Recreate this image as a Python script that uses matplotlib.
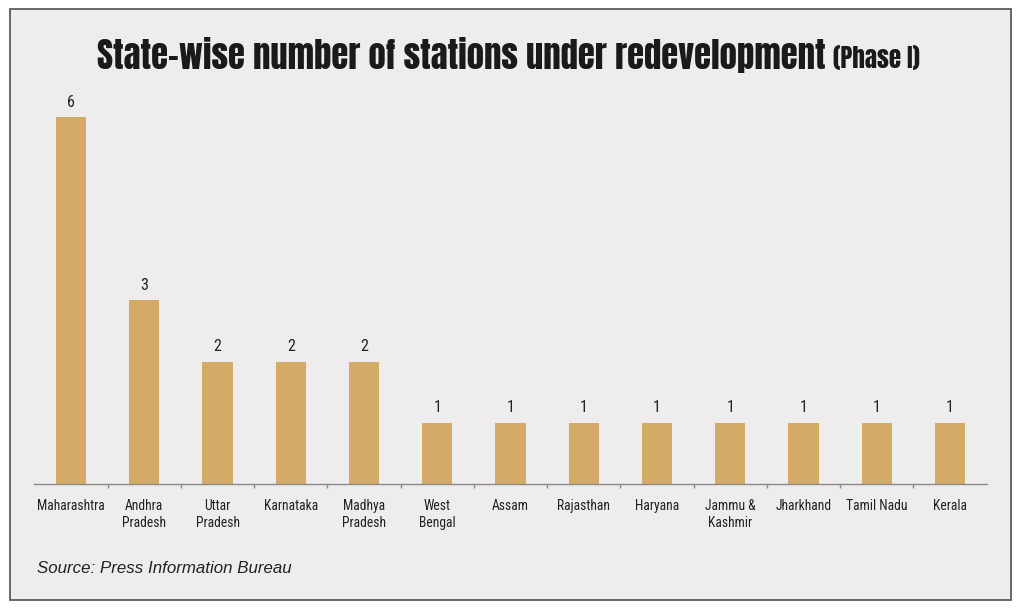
import matplotlib
matplotlib.use("Agg")
import matplotlib.pyplot as plt
from matplotlib.patches import Rectangle

states = ["Maharashtra", "Andhra\nPradesh", "Uttar\nPradesh", "Karnataka", "Madhya\nPradesh",
          "West\nBengal", "Assam", "Rajasthan", "Haryana", "Jammu &\nKashmir",
          "Jharkhand", "Tamil Nadu", "Kerala"]
stations = [6, 3, 2, 2, 2, 1, 1, 1, 1, 1, 1, 1, 1]

W, H = 1024, 608
fig = plt.figure(figsize=(W / 100, H / 100), dpi=100)
fig.patch.set_facecolor("white")

bg = "#eeeced"
frame = Rectangle((10 / W, 1 - 600 / H), 1001 / W, 591 / H, transform=fig.transFigure,
                  facecolor=bg, edgecolor="#5a5a5a", linewidth=1.3, zorder=-5)
fig.patches.append(frame)

title_font = ["Anton", "Oswald", "DejaVu Sans"]
narrow = ["Roboto Condensed", "IBM Plex Sans Condensed", "DejaVu Sans"]

ax = fig.add_axes([34.4 / W, 1 - 484 / H, (986.6 - 34.4) / W, (484 - 86.3) / H])
ax.set_zorder(2)
ax.patch.set_visible(False)
x = list(range(len(states)))
ax.bar(x, stations, width=0.41, color="#d4ab66", zorder=2)
ax.set_xlim(-0.5, len(states) - 0.5)
ax.set_ylim(0, 6.5)
for s in ["top", "right", "left"]:
    ax.spines[s].set_visible(False)
ax.spines["bottom"].set_color("#8a8a8a")
ax.spines["bottom"].set_linewidth(1.0)
ax.set_yticks([])
ax.set_xticks([i + 0.5 for i in x[:-1]])
ax.set_xticklabels([])
ax.tick_params(axis="x", length=3, color="#8a8a8a", width=1)
for i, (lab, v) in enumerate(zip(states, stations)):
    ax.text(i, -0.25, lab, ha="center", va="top", fontsize=9.8, family=narrow,
            color="#222222", linespacing=1.25)
    ax.text(i, v + 0.12, str(v), ha="center", va="bottom", fontsize=11.5, family=narrow,
            color="#222222")

# Title
fig.canvas.draw()
r = fig.canvas.get_renderer()
t1 = fig.text(97 / W, 1 - 69 / H, "State-wise number of stations under redevelopment",
              fontsize=30, family=title_font, color="#1a1a1a", va="baseline")
bb = t1.get_window_extent(r)
scale = (826 - 97) / bb.width
t1.set_fontsize(30 * scale)
bb = t1.get_window_extent(r)
fig.text((bb.x1 + 7) / W, 1 - 68 / H, "(Phase I)", fontsize=30 * scale * 0.72,
         family=title_font, color="#1a1a1a", va="baseline")

fig.text(37 / W, 1 - 573 / H, "Source: Press Information Bureau", fontsize=12.2,
         style="italic", family=["Liberation Sans", "DejaVu Sans"], color="#222222",
         va="baseline")

fig.savefig("out.png", dpi=100, facecolor=fig.get_facecolor())
